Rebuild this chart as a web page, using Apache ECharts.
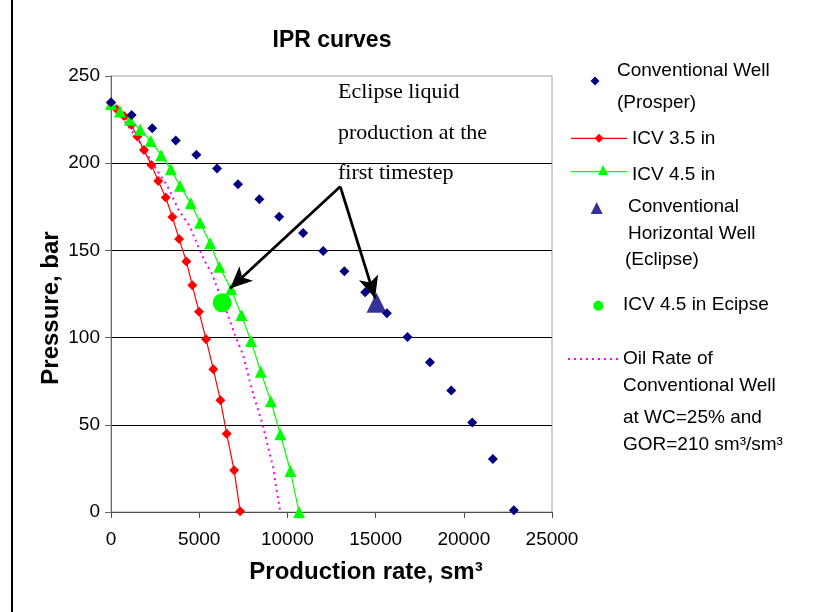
<!DOCTYPE html>
<html>
<head>
<meta charset="utf-8">
<title>IPR curves</title>
<script src="https://cdn.jsdelivr.net/npm/echarts@6/dist/echarts.min.js"></script>
<style>
  html, body { margin: 0; padding: 0; background: #ffffff; }
  #chart { width: 834px; height: 612px; }
</style>
</head>
<body>
<div id="chart"></div>
<script>
// values (rate in sm3, pressure in bar)
const prosperRate = [0, 1170, 2340, 3670, 4840, 6010, 7200, 8410, 9530, 10890, 12030, 13230, 14410, 15640, 16810, 18080, 19290, 20480, 21650, 22840];
const prosperPres = [235, 227.6, 220.1, 213, 204.8, 196.9, 187.9, 179.3, 169.3, 160, 149.7, 138, 126, 113.9, 100.3, 85.8, 69.7, 51.3, 30.4, 1];

const icv35Rate = [0, 320, 740, 1150, 1490, 1870, 2290, 2680, 3100, 3480, 3860, 4270, 4610, 4990, 5390, 5800, 6200, 6560, 6980, 7320];
const icv35Pres = [234.5, 231, 227, 222, 215.3, 207.5, 199, 189.8, 180.3, 169.2, 156.5, 143.7, 130, 114.8, 99, 81.9, 64.1, 44.8, 23.9, 0.5];

const icv45Rate = [0, 510, 1080, 1650, 2250, 2840, 3390, 3910, 4520, 5050, 5620, 6140, 6810, 7390, 7940, 8490, 9060, 9600, 10170, 10660];
const icv45Pres = [233.9, 229.6, 224.9, 219.2, 212.8, 204.6, 196.6, 187, 177, 165.9, 154.1, 140.6, 127.7, 112.9, 98, 80.4, 63.5, 44.6, 23.5, 0];

const oilRate = [0, 1600, 2590, 3160, 3830, 4480, 4860, 5330, 5710, 6030, 6520, 7030, 7490, 7850, 8110, 8550, 8790, 9040, 9190, 9360, 9600];
const oilPres = [235, 212.4, 196.2, 187.6, 173.2, 163.6, 154.1, 143.5, 136.9, 128.2, 115.8, 101.4, 90, 75.6, 66, 51.7, 42.1, 31.6, 25.8, 14.4, 0];

const eclipseHorizontal = [[15050, 120]];
const eclipseIcv45 = [[6300, 120]];

// annotation arrows: common start, two tips
const arrowFrom = [13000, 186.6];
const arrowTips = [[6750, 128.2], [14970, 122.5]];

const xTicks = { min: 0, max: 25000, interval: 5000 };
const yTicks = { min: 0, max: 250, interval: 50 };

const SANS = '"Liberation Sans", Arial, sans-serif';
const SERIF = '"Liberation Serif", "Times New Roman", serif';

function pairs(xs, ys) {
  return xs.map((x, i) => [x, ys[i]]);
}

function txt(x, y, str, font, opts) {
  return {
    type: 'text',
    x: x,
    y: y,
    silent: true,
    rotation: (opts && opts.rotation) || 0,
    style: {
      text: str,
      fill: '#000',
      font: font,
      textAlign: (opts && opts.align) || 'left',
      textVerticalAlign: 'middle',
    },
  };
}

function poly(points, color) {
  return { type: 'polygon', silent: true, shape: { points: points }, style: { fill: color } };
}

function diamond(cx, cy, s, color) {
  return poly([[cx, cy - s / 2], [cx + s / 2, cy], [cx, cy + s / 2], [cx - s / 2, cy]], color);
}

function triangle(cx, cy, s, color) {
  return poly([[cx, cy - s / 2], [cx + s / 2, cy + s / 2], [cx - s / 2, cy + s / 2]], color);
}

function seg(x1, x2, y, color, dash) {
  return {
    type: 'line',
    silent: true,
    shape: { x1: x1, y1: y, x2: x2, y2: y },
    style: { stroke: color, lineWidth: dash ? 2 : 1.2, lineDash: dash || null },
  };
}

const legendFont = '19px ' + SANS;
const legendGraphics = [
  diamond(595, 81, 9, '#000080'),
  txt(617, 71, 'Conventional Well', legendFont),
  txt(617, 103, '(Prosper)', legendFont),

  seg(571, 627, 138.3, '#ff0000'),
  diamond(599, 138.3, 9, '#ff0000'),
  txt(632, 138.3, 'ICV 3.5 in', legendFont),

  seg(571, 627, 171.7, '#00ff00'),
  triangle(603, 170, 10, '#00ff00'),
  txt(632, 175, 'ICV 4.5 in', legendFont),

  triangle(596.7, 208, 12, '#333399'),
  txt(628, 207, 'Conventional', legendFont),
  txt(628, 233.5, 'Horizontal Well', legendFont),
  txt(625, 260, '(Eclipse)', legendFont),

  { type: 'circle', silent: true, shape: { cx: 598.3, cy: 305.7, r: 5 }, style: { fill: '#00ff00' } },
  txt(623, 305, 'ICV 4.5 in Ecipse', legendFont),

  seg(568, 622, 359, '#ff00ff', [2, 4]),
  txt(623, 359, 'Oil Rate of', legendFont),
  txt(623, 386, 'Conventional Well', legendFont),
  txt(623, 418, 'at WC=25% and', legendFont),
  txt(623, 445, 'GOR=210 sm³/sm³', legendFont),
];

const chart = echarts.init(document.getElementById('chart'), null, { renderer: 'canvas' });

const option = {
  animation: false,
  backgroundColor: '#ffffff',
  grid: {
    left: 111,
    top: 76,
    right: 282,
    bottom: 100,
    show: true,
    borderColor: '#a0a0a0',
    borderWidth: 1,
    backgroundColor: 'transparent',
  },
  xAxis: {
    type: 'value',
    min: xTicks.min,
    max: xTicks.max,
    interval: xTicks.interval,
    axisLine: { show: true, lineStyle: { color: '#4d4d4d', width: 1 } },
    axisTick: { show: true, length: 6, lineStyle: { color: '#4d4d4d' } },
    axisLabel: {
      color: '#000',
      fontFamily: SANS,
      fontSize: 19,
      margin: 18,
      formatter: (v) => String(v),
    },
    splitLine: { show: false },
  },
  yAxis: {
    type: 'value',
    min: yTicks.min,
    max: yTicks.max,
    interval: yTicks.interval,
    axisLine: { show: true, lineStyle: { color: '#666666', width: 1 } },
    axisTick: { show: true, length: 6, lineStyle: { color: '#666666' } },
    axisLabel: { color: '#000', fontFamily: SANS, fontSize: 19, margin: 11, formatter: (v) => String(v) },
    splitLine: {
      show: true,
      showMinLine: false,
      showMaxLine: false,
      lineStyle: { color: '#000', width: 1 },
    },
  },
  series: [
    {
      name: 'Oil Rate of Conventional Well at WC=25% and GOR=210 sm3/sm3',
      type: 'line',
      data: pairs(oilRate, oilPres),
      showSymbol: false,
      symbol: 'none',
      lineStyle: { color: '#ff00ff', width: 2, type: [2, 4] },
      z: 2,
    },
    {
      name: 'ICV 3.5 in',
      type: 'line',
      data: pairs(icv35Rate, icv35Pres),
      symbol: 'diamond',
      symbolSize: 10,
      itemStyle: { color: '#ff0000', opacity: 1 },
      lineStyle: { color: '#ff0000', width: 1.2 },
      z: 3,
    },
    {
      name: 'ICV 4.5 in',
      type: 'line',
      data: pairs(icv45Rate, icv45Pres),
      symbol: 'triangle',
      symbolSize: 12,
      itemStyle: { color: '#00ff00', opacity: 1 },
      lineStyle: { color: '#00ff00', width: 1.2 },
      z: 3,
    },
    {
      name: 'Conventional Well (Prosper)',
      type: 'scatter',
      data: pairs(prosperRate, prosperPres),
      symbol: 'diamond',
      symbolSize: 10,
      itemStyle: { color: '#000080', opacity: 1 },
      z: 4,
    },
    {
      name: 'Conventional Horizontal Well (Eclipse)',
      type: 'scatter',
      data: eclipseHorizontal,
      symbol: 'triangle',
      symbolSize: 20,
      itemStyle: { color: '#333399', opacity: 1 },
      z: 3,
      markLine: {
        silent: true,
        symbol: ['none', 'arrow'],
        symbolSize: [15, 22],
        label: { show: false },
        lineStyle: { color: '#000', width: 2.8, type: 'solid', opacity: 1 },
        data: arrowTips.map((tip) => [{ coord: arrowFrom }, { coord: tip }]),
      },
    },
    {
      name: 'ICV 4.5 in Ecipse',
      type: 'scatter',
      data: eclipseIcv45,
      symbol: 'circle',
      symbolSize: 19,
      itemStyle: { color: '#00ff00', opacity: 1 },
      z: 5,
    },
  ],
  graphic: [
    {
      type: 'line',
      silent: true,
      shape: { x1: 12, y1: 0, x2: 12, y2: 612 },
      style: { stroke: '#000', lineWidth: 2 },
    },
    txt(332, 41, 'IPR curves', 'bold 23px ' + SANS, { align: 'center' }),
    txt(366, 572, 'Production rate, sm³', 'bold 24px ' + SANS, { align: 'center' }),
    txt(51, 308, 'Pressure, bar', 'bold 24px ' + SANS, { align: 'center', rotation: Math.PI / 2 }),
    txt(338, 92, 'Eclipse liquid', '22px ' + SERIF),
    txt(338, 133, 'production at the', '22px ' + SERIF),
    txt(338, 173, 'first timestep', '22px ' + SERIF),
  ].concat(legendGraphics),
};

chart.setOption(option);
</script>
</body>
</html>
